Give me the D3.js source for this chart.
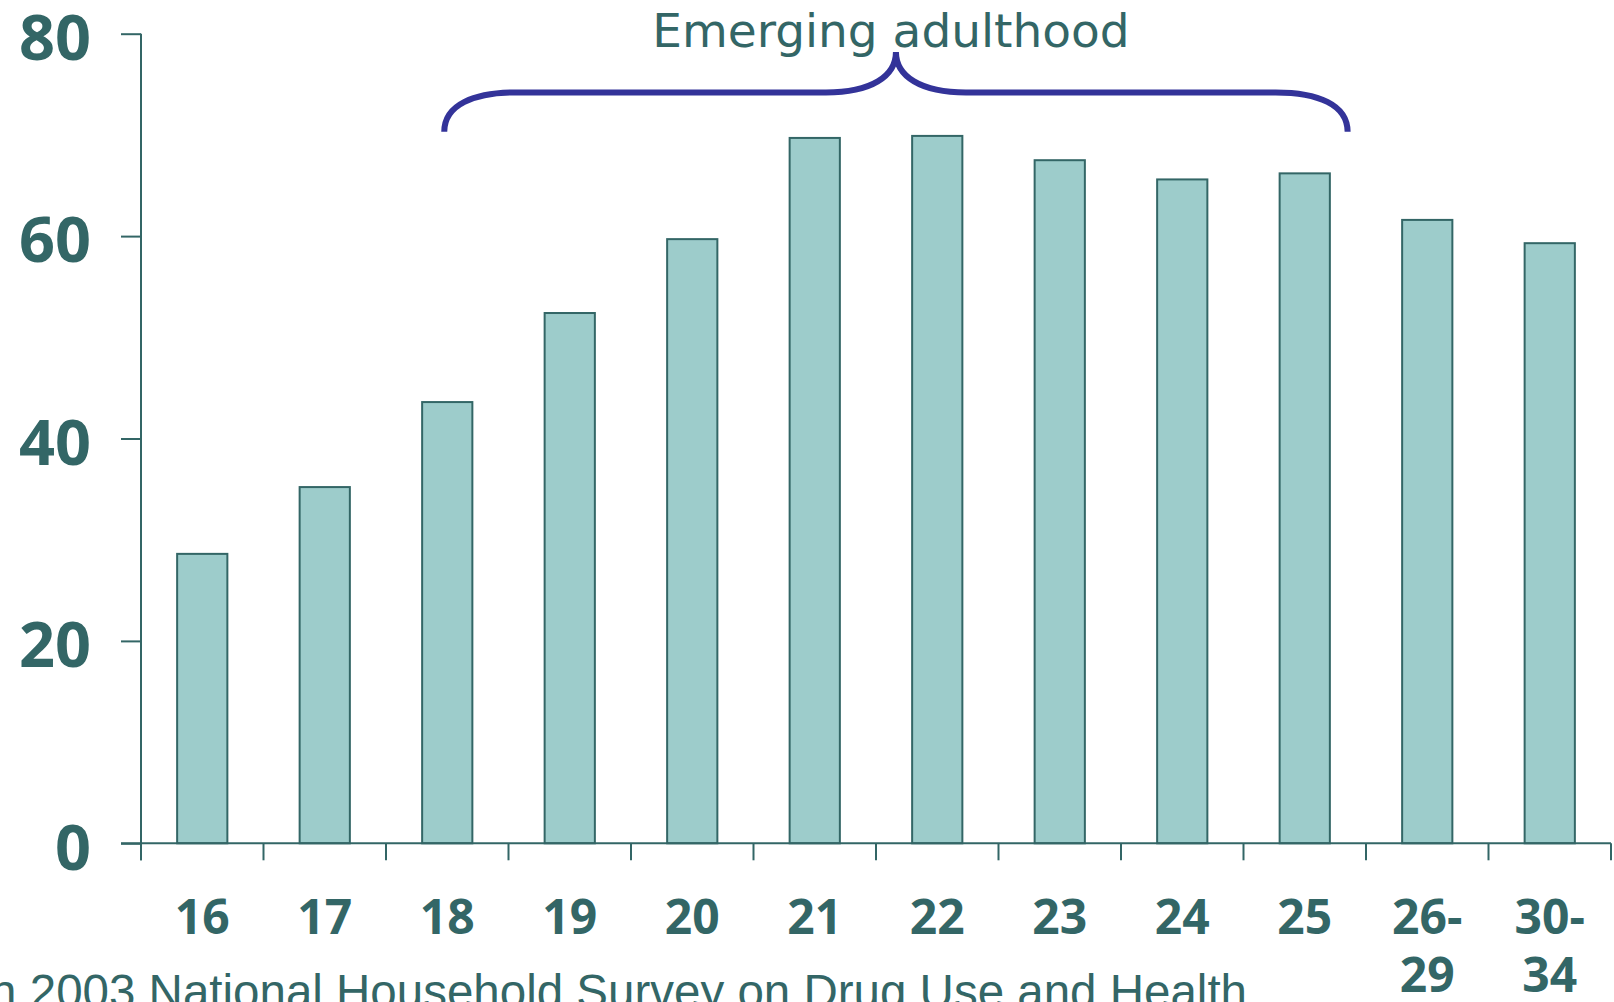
<!DOCTYPE html>
<html><head><meta charset="utf-8">
<script src="https://cdn.jsdelivr.net/npm/d3@7"></script>
<style>html,body{margin:0;padding:0;background:#fff;overflow:hidden}</style>
</head><body>
<svg id="chart" width="1614" height="1002"></svg>
<script>
// ---- data ----
const categories = ["16","17","18","19","20","21","22","23","24","25","26-29","30-34"];
const categoryLabelLines = [["16"],["17"],["18"],["19"],["20"],["21"],["22"],["23"],["24"],["25"],["26-","29"],["30-","34"]];
const values = [28.6, 35.2, 43.6, 52.4, 59.7, 69.7, 69.9, 67.5, 65.6, 66.2, 61.6, 59.3];
const yTickValues = [0, 20, 40, 60, 80];
const annotationText = "Emerging adulthood";
const braceFrom = "18", braceTo = "25";
const sourceText = "Administration 2003 National Household Survey on Drug Use and Health";

// ---- styles ----
const teal = "#336666", barFill = "#9DCCCB", braceColor = "#333399";

const svg = d3.select("#chart");
const x = d3.scaleBand().domain(categories).range([141, 1611]).padding(0);
const y = d3.scaleLinear().domain([0, 80]).range([843.3, 33.7]);
const step = x.step();
const barW = step * 0.41;

// bars
svg.append("g").selectAll("rect").data(categories).join("rect")
  .attr("x", (d) => x(d) + step / 2 - barW / 2)
  .attr("y", (d, i) => y(values[i]))
  .attr("width", barW)
  .attr("height", (d, i) => y(0) - y(values[i]))
  .attr("fill", barFill)
  .attr("stroke", teal)
  .attr("stroke-width", 2);

// y axis
const yAxis = svg.append("g").attr("transform", `translate(${x.range()[0]},0)`)
  .call(d3.axisLeft(y).tickValues(yTickValues).tickSize(20).tickPadding(30).tickSizeOuter(0));
yAxis.select(".domain").remove();
yAxis.append("line").attr("x1", 0).attr("x2", 0).attr("y1", y(80)).attr("y2", y(0) + 17)
  .attr("stroke", teal).attr("stroke-width", 2);
yAxis.selectAll(".tick line").attr("stroke", teal).attr("stroke-width", 2);
yAxis.selectAll(".tick text")
  .attr("fill", teal)
  .attr("dy", "0.41em")
  .style("font-family", "'Open Sans', sans-serif")
  .style("font-weight", "bold")
  .style("font-size", "63px");

// x axis
const xg = svg.append("g");
xg.append("line").attr("x1", 121).attr("x2", x.range()[1]).attr("y1", y(0)).attr("y2", y(0))
  .attr("stroke", teal).attr("stroke-width", 2);
const boundaries = categories.map(d => x(d)).concat([x.range()[1]]);
xg.selectAll("line.tk").data(boundaries).join("line").attr("class", "tk")
  .attr("x1", d => d).attr("x2", d => d).attr("y1", y(0)).attr("y2", y(0) + 17)
  .attr("stroke", teal).attr("stroke-width", 2);
const xl = xg.selectAll("text").data(categories).join("text")
  .attr("text-anchor", "middle")
  .attr("fill", teal)
  .style("font-family", "'Open Sans', sans-serif")
  .style("font-weight", "bold")
  .style("font-size", "48px");
xl.each(function(d, i) {
  const t = d3.select(this);
  categoryLabelLines[i].forEach((line, j) => {
    t.append("tspan").attr("x", x(d) + step / 2).attr("y", 934 + j * 58).text(line);
  });
});

// brace annotation
const bl = x(braceFrom) + step * 0.5 - 3;
const br = x(braceTo) + step * 0.85;
const bc = (bl + br) / 2;
const yEnd = y(70.3), yMid = y(74.2), yTop = y(78.2);
const path = d3.path();
path.moveTo(bl, yEnd);
path.bezierCurveTo(bl, yMid + 12, bl + 30, yMid, bl + 72, yMid);
path.lineTo(bc - 70, yMid);
path.bezierCurveTo(bc - 25, yMid, bc, yMid - 16, bc, yTop);
path.bezierCurveTo(bc, yMid - 16, bc + 25, yMid, bc + 70, yMid);
path.lineTo(br - 72, yMid);
path.bezierCurveTo(br - 30, yMid, br, yMid + 12, br, yEnd);
svg.append("path").attr("d", path.toString())
  .attr("fill", "none").attr("stroke", braceColor).attr("stroke-width", 6);

svg.append("text")
  .attr("x", bc - 5).attr("y", yTop - 5)
  .attr("text-anchor", "middle")
  .attr("fill", teal)
  .style("font-family", "'DejaVu Sans', sans-serif")
  .style("font-size", "47px")
  .text(annotationText);

// source
svg.append("text")
  .attr("x", 1247).attr("y", 1008)
  .attr("text-anchor", "end")
  .attr("fill", teal)
  .style("font-family", "'Liberation Sans', Arial, sans-serif")
  .style("font-size", "47.5px")
  .text(sourceText);
</script>
</body></html>
